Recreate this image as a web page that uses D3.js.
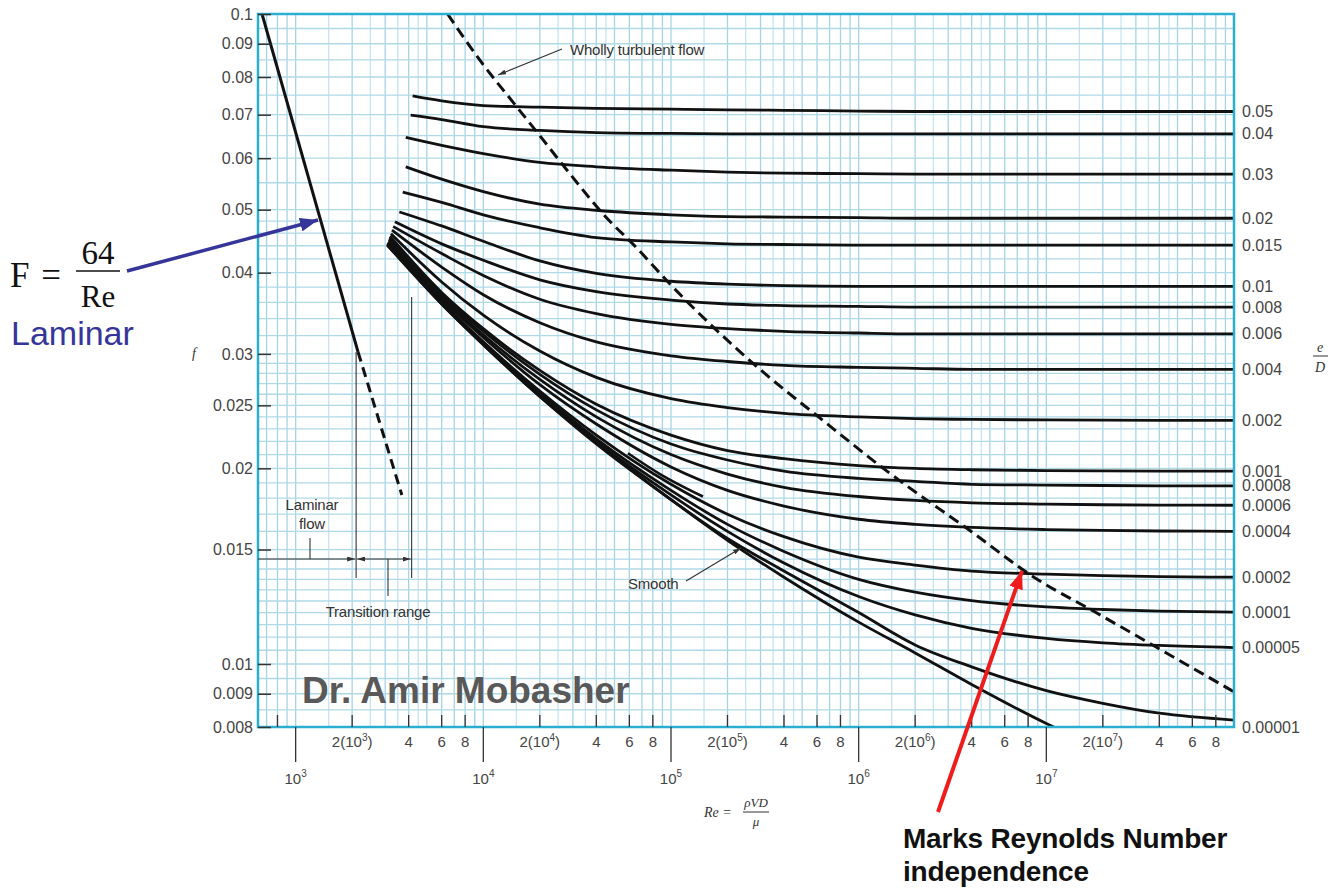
<!DOCTYPE html>
<html>
<head>
<meta charset="utf-8">
<script src="https://cdn.jsdelivr.net/npm/d3@7"></script>
<style>
body { margin: 0; background: #fff; }
svg { display: block; }
text { font-family: "Liberation Sans", Arial, sans-serif; }
.serif { font-family: "Liberation Serif", "Times New Roman", serif; }
</style>
</head>
<body>
<svg width="1338" height="888"></svg>
<script>
// values (Re, friction factor f)
const roughness = ["0.05","0.04","0.03","0.02","0.015","0.01","0.008","0.006","0.004","0.002",
                   "0.001","0.0008","0.0006","0.0004","0.0002","0.0001","0.00005","0.00001"];
const startRe = [4200, 4100, 3860, 3860, 3720, 3570, 3380, 3310, 3260, 3220, 3180, 3160, 3140, 3120, 3100, 3090, 3085, 3080];
const startF  = [0.0748, 0.0699, 0.0646, 0.0582, 0.0532, 0.0496, 0.0479, 0.0471, 0.0465, 0.0459,
                 0.0455, 0.0452, 0.0450, 0.0447, 0.0445, 0.0444, 0.0443, 0.0442];
const reGrid = [6e3, 1e4, 2e4, 4e4, 1e5, 2e5, 4e5, 1e6, 2e6, 4e6, 1e7, 2e7, 4e7, 1e8];
const fValues = [
  [0.0735, 0.0723, 0.0719, 0.0716, 0.0714, 0.0712, 0.0711, 0.0709, 0.0708, 0.0708, 0.0708, 0.0708, 0.0708, 0.0708],
  [0.0688, 0.0671, 0.0662, 0.0657, 0.0655, 0.0654, 0.0654, 0.0654, 0.0654, 0.0654, 0.0654, 0.0654, 0.0654, 0.0654],
  [0.0628, 0.0610, 0.0591, 0.0582, 0.0575, 0.0571, 0.0569, 0.0568, 0.0567, 0.0567, 0.0567, 0.0567, 0.0567, 0.0567],
  [0.0557, 0.0533, 0.0510, 0.0499, 0.0491, 0.0488, 0.0487, 0.0486, 0.0485, 0.0485, 0.0485, 0.0485, 0.0485, 0.0485],
  [0.0513, 0.0491, 0.0469, 0.0453, 0.0446, 0.0443, 0.0442, 0.0441, 0.0441, 0.0441, 0.0441, 0.0441, 0.0441, 0.0441],
  [0.0472, 0.0447, 0.0417, 0.0399, 0.0388, 0.0384, 0.0382, 0.0381, 0.0381, 0.0381, 0.0381, 0.0381, 0.0381, 0.0381],
  [0.0443, 0.0418, 0.0390, 0.0374, 0.0363, 0.0358, 0.0356, 0.0355, 0.0354, 0.0354, 0.0354, 0.0354, 0.0354, 0.0354],
  [0.0428, 0.0396, 0.0364, 0.0346, 0.0333, 0.0328, 0.0325, 0.0323, 0.0322, 0.0322, 0.0322, 0.0322, 0.0322, 0.0322],
  [0.0408, 0.0370, 0.0335, 0.0313, 0.0298, 0.0292, 0.0288, 0.0286, 0.0285, 0.0284, 0.0284, 0.0284, 0.0284, 0.0284],
  [0.0387, 0.0344, 0.0303, 0.0276, 0.0256, 0.0248, 0.0243, 0.0240, 0.02385, 0.02378, 0.02374, 0.02372, 0.0237, 0.0237],
  [0.0373, 0.0328, 0.0283, 0.0251, 0.0225, 0.0213, 0.0207, 0.0202, 0.0200, 0.0199, 0.01984, 0.01982, 0.0198, 0.0198],
  [0.0370, 0.0325, 0.0279, 0.0246, 0.0218, 0.0206, 0.0198, 0.0193, 0.0191, 0.0189, 0.01885, 0.01882, 0.0188, 0.0188],
  [0.0367, 0.0321, 0.0274, 0.0240, 0.0210, 0.0196, 0.0187, 0.0181, 0.01785, 0.0177, 0.01762, 0.01758, 0.01756, 0.01755],
  [0.0364, 0.0318, 0.0269, 0.0234, 0.0201, 0.0185, 0.0175, 0.0167, 0.0164, 0.01622, 0.0161, 0.01605, 0.01602, 0.0160],
  [0.0361, 0.0313, 0.0263, 0.0225, 0.0189, 0.0170, 0.0157, 0.0146, 0.0142, 0.0139, 0.01375, 0.01368, 0.01363, 0.0136],
  [0.0360, 0.0312, 0.0261, 0.0222, 0.0185, 0.0164, 0.0149, 0.0135, 0.0129, 0.01252, 0.01224, 0.01213, 0.01206, 0.01202],
  [0.0359, 0.0311, 0.0259, 0.0220, 0.0182, 0.0160, 0.0143, 0.0127, 0.0119, 0.01135, 0.01095, 0.01078, 0.01068, 0.0106],
  [0.0358, 0.0310, 0.0258, 0.0219, 0.0179, 0.0156, 0.0139, 0.0120, 0.0107, 0.0099, 0.0091, 0.0087, 0.0084, 0.0082]
];
const smoothStart = [3076, 0.0441];
const smoothF = [0.0358, 0.0310, 0.0258, 0.0218, 0.0179, 0.0155, 0.0136, 0.0116, 0.0104, 0.0093, 0.0081, 0.0074, null, null];
const extraRe = [58970, 87340, 148000];
const extraF  = [0.0211, 0.0196, 0.0181];
const laminarSolid  = [[662, 0.1], [2150, 0.0302]];
const laminarDashed = [[2150, 0.0302], [3680, 0.0182]];
const turbRe = [6450, 9590, 15050, 19240, 27800, 45600, 63500, 102400, 297900, 645100, 1415000, 3966000, 8590000, 18380000, 38860000, 1e8];
const turbF  = [0.1, 0.0849, 0.0720, 0.0659, 0.0576, 0.0485, 0.0441, 0.0380, 0.0284, 0.0237, 0.0198, 0.0160, 0.0136, 0.0120, 0.0106, 0.00906];
const yTicks = [0.1, 0.09, 0.08, 0.07, 0.06, 0.05, 0.04, 0.03, 0.025, 0.02, 0.015, 0.01, 0.009, 0.008];
const xMajor = [1e3, 1e4, 1e5, 1e6, 1e7];
const xMinorMult = [2, 4, 6, 8];

const svg = d3.select('svg');
const pLeft = 258, pRight = 1234, pTop = 14, pBottom = 727;
const x = d3.scaleLog().domain([630, 1e8]).range([pLeft, pRight]);
const y = d3.scaleLog().domain([0.008, 0.1]).range([pBottom, pTop]);

const defs = svg.append('defs');
defs.append('clipPath').attr('id', 'plot')
    .append('rect').attr('x', pLeft).attr('y', pTop).attr('width', pRight - pLeft).attr('height', pBottom - pTop);
function marker(id, color, w, h) {
    defs.append('marker').attr('id', id)
        .attr('markerUnits', 'userSpaceOnUse')
        .attr('markerWidth', w).attr('markerHeight', h)
        .attr('refX', w).attr('refY', h / 2)
        .attr('orient', 'auto-start-reverse')
        .append('path').attr('d', `M0,0L${w},${h / 2}L0,${h}Z`).attr('fill', color);
}
marker('ah', '#333', 8, 5);
marker('blue', '#35359a', 18, 14);
marker('red', '#ee1c1c', 18, 14);

// grid
const grid = svg.append('g');
const gx = [];
for (let k = 2; k <= 7; k++)
    for (const m of [1, 1.5, 2, 2.5, 3, 3.5, 4, 4.5, 5, 6, 7, 8, 9]) {
        const v = m * Math.pow(10, k);
        if (v > 630 && v < 1e8) gx.push([v, Number.isInteger(m)]);
    }
grid.selectAll('line.gx').data(gx).enter().append('line')
    .attr('x1', d => x(d[0])).attr('x2', d => x(d[0]))
    .attr('y1', pTop).attr('y2', pBottom)
    .attr('stroke', d => d[1] ? '#a6d4e5' : '#c6e5f0').attr('stroke-width', 1.3);
const gy = [];
const steps = [[0.008, 0.015, 0.0005], [0.015, 0.03, 0.001], [0.03, 0.05, 0.002], [0.05, 0.1, 0.005]];
steps.forEach(s => { for (let v = s[0]; v < s[1] - 1e-9; v += s[2]) gy.push(v); });
grid.selectAll('line.gy').data(gy).enter().append('line')
    .attr('y1', d => y(d)).attr('y2', d => y(d))
    .attr('x1', pLeft).attr('x2', pRight)
    .attr('stroke', '#b0d9e8').attr('stroke-width', 1.3);

// curves
const line = d3.line().x(d => x(d[0])).y(d => y(d[1])).defined(d => d[1] != null).curve(d3.curveMonotoneX);
const curves = svg.append('g').attr('clip-path', 'url(#plot)').attr('fill', 'none').attr('stroke', '#111');
roughness.forEach((r, i) => {
    const pts = [[startRe[i], startF[i]]].concat(reGrid.map((re, j) => [re, fValues[i][j]]));
    curves.append('path').attr('d', line(pts)).attr('stroke-width', 2.8);
});
curves.append('path').attr('stroke-width', 2.8)
    .attr('d', line([smoothStart].concat(reGrid.map((re, j) => [re, smoothF[j]]))));
curves.append('path').attr('stroke-width', 2.6)
    .attr('d', line(extraRe.map((re, j) => [re, extraF[j]])));
curves.append('path').attr('stroke-width', 3).attr('d', line(laminarSolid));
curves.append('path').attr('stroke-width', 3).attr('stroke-dasharray', '10,6').attr('d', line(laminarDashed));
curves.append('path').attr('stroke-width', 3).attr('stroke-dasharray', '11,6')
    .attr('d', line(turbRe.map((re, j) => [re, turbF[j]])));

// border
svg.append('rect').attr('x', pLeft).attr('y', pTop).attr('width', pRight - pLeft).attr('height', pBottom - pTop)
    .attr('fill', 'none').attr('stroke', '#2aaed2').attr('stroke-width', 2.5);

// left axis
const yAxis = svg.append('g').attr('transform', `translate(${pLeft},0)`)
    .call(d3.axisLeft(y).tickValues(yTicks).tickFormat(d => String(d)).tickSize(-13).tickPadding(5));
yAxis.select('.domain').remove();
yAxis.selectAll('line').attr('stroke', '#333').attr('stroke-width', 1.5);
yAxis.selectAll('text').attr('font-size', 16).attr('fill', '#444')
    .attr('font-family', '"Liberation Sans", Arial, sans-serif');

// right labels (e/D)
svg.selectAll('text.rl').data(roughness).enter().append('text')
    .attr('x', pRight + 8)
    .attr('y', (d, i) => i === roughness.length - 1 ? pBottom : y(fValues[i][fValues[i].length - 1]))
    .attr('dy', '0.35em').attr('font-size', 16).attr('fill', '#444').text(d => d);

// bottom axis
const bax = svg.append('g').attr('stroke', '#333');
xMajor.forEach(v => {
    bax.append('line').attr('x1', x(v)).attr('x2', x(v)).attr('y1', pBottom).attr('y2', pBottom + 35).attr('stroke-width', 1.3);
    const t = svg.append('text').attr('x', x(v)).attr('y', pBottom + 57).attr('text-anchor', 'middle')
        .attr('font-size', 15).attr('fill', '#444');
    t.append('tspan').text('10');
    t.append('tspan').attr('font-size', 10).attr('dy', -7).text(Math.log10(v));
});
const minor = [[800, null]];
[3, 4, 5, 6, 7].forEach(k => xMinorMult.forEach(m => minor.push([m * Math.pow(10, k), m === 2 ? k : 0])));
minor.forEach(d => {
    bax.append('line').attr('x1', x(d[0])).attr('x2', x(d[0])).attr('y1', pBottom).attr('y2', pBottom - 12).attr('stroke-width', 1.3);
    if (d[1] === null) return;
    const t = svg.append('text').attr('x', x(d[0])).attr('y', pBottom + 20).attr('text-anchor', 'middle')
        .attr('font-size', 15).attr('fill', '#444');
    if (d[1]) {
        t.append('tspan').text('2(10');
        t.append('tspan').attr('font-size', 10).attr('dy', -6).text(d[1]);
        t.append('tspan').attr('dy', 6).text(')');
    } else {
        t.text(Math.round(d[0] / Math.pow(10, Math.floor(Math.log10(d[0])))));
    }
});

// axis titles
svg.append('text').attr('class', 'serif').attr('x', 192).attr('y', 358).attr('font-size', 14)
    .attr('font-style', 'italic').attr('fill', '#333').text('f');
svg.append('text').attr('class', 'serif').attr('x', 704).attr('y', 817).attr('font-size', 14)
    .attr('font-style', 'italic').attr('fill', '#333').text('Re =');
svg.append('text').attr('class', 'serif').attr('x', 756).attr('y', 807).attr('font-size', 13)
    .attr('font-style', 'italic').attr('text-anchor', 'middle').attr('fill', '#333').text('ρVD');
svg.append('line').attr('x1', 743).attr('x2', 769).attr('y1', 812).attr('y2', 812).attr('stroke', '#333');
svg.append('text').attr('class', 'serif').attr('x', 756).attr('y', 826).attr('font-size', 13)
    .attr('font-style', 'italic').attr('text-anchor', 'middle').attr('fill', '#333').text('μ');
svg.append('text').attr('class', 'serif').attr('x', 1320).attr('y', 352).attr('font-size', 14)
    .attr('font-style', 'italic').attr('text-anchor', 'middle').attr('fill', '#333').text('e');
svg.append('line').attr('x1', 1313).attr('x2', 1328).attr('y1', 356).attr('y2', 356).attr('stroke', '#333');
svg.append('text').attr('class', 'serif').attr('x', 1320).attr('y', 372).attr('font-size', 14)
    .attr('font-style', 'italic').attr('text-anchor', 'middle').attr('fill', '#333').text('D');

// annotations inside the plot
const ann = svg.append('g').attr('stroke', '#333').attr('stroke-width', 1.1).attr('fill', 'none');
const xL = x(2100), xT = x(4150);
ann.append('line').attr('x1', xL).attr('x2', xL).attr('y1', 352).attr('y2', 578);
ann.append('line').attr('x1', xT).attr('x2', xT).attr('y1', 297).attr('y2', 578);
ann.append('line').attr('x1', pLeft).attr('x2', xL - 1).attr('y1', 559).attr('y2', 559).attr('marker-end', 'url(#ah)');
ann.append('line').attr('x1', xL + 1).attr('x2', xT - 1).attr('y1', 559).attr('y2', 559)
    .attr('marker-start', 'url(#ah)').attr('marker-end', 'url(#ah)');
ann.append('line').attr('x1', 310).attr('x2', 310).attr('y1', 538).attr('y2', 559);
ann.append('line').attr('x1', 388).attr('x2', 388).attr('y1', 559).attr('y2', 596);
ann.append('line').attr('x1', 562).attr('y1', 49).attr('x2', 498).attr('y2', 75).attr('marker-end', 'url(#ah)');
ann.append('line').attr('x1', 686).attr('y1', 581).attr('x2', 741).attr('y2', 548).attr('marker-end', 'url(#ah)');

function label(tx, ty, str, anchor) {
    svg.append('text').attr('x', tx).attr('y', ty).attr('font-size', 15).attr('fill', '#333')
        .attr('letter-spacing', -0.2).attr('text-anchor', anchor || 'start').text(str);
}
label(570, 55, 'Wholly turbulent flow');
label(312, 510, 'Laminar', 'middle');
label(312, 529, 'flow', 'middle');
label(378, 617, 'Transition range', 'middle');
label(628, 589, 'Smooth');

svg.append('text').attr('x', 302).attr('y', 703).attr('font-size', 37).attr('font-weight', 'bold')
    .attr('fill', '#595959').text('Dr. Amir Mobasher');

// formula and laminar note
const fx = svg.append('g');
fx.append('text').attr('class', 'serif').attr('x', 10).attr('y', 287).attr('font-size', 35).attr('fill', '#111').text('F');
fx.append('text').attr('class', 'serif').attr('x', 51).attr('y', 287).attr('font-size', 35).attr('text-anchor', 'middle').attr('fill', '#111').text('=');
fx.append('text').attr('class', 'serif').attr('x', 98).attr('y', 264).attr('font-size', 33).attr('text-anchor', 'middle').attr('fill', '#111').text('64');
fx.append('line').attr('x1', 76).attr('x2', 120).attr('y1', 271).attr('y2', 271).attr('stroke', '#111').attr('stroke-width', 1.5);
fx.append('text').attr('class', 'serif').attr('x', 98).attr('y', 307).attr('font-size', 31).attr('text-anchor', 'middle').attr('fill', '#111').text('Re');
svg.append('text').attr('x', 11).attr('y', 345).attr('font-size', 34).attr('fill', '#35359a').text('Laminar');
svg.append('line').attr('x1', 127).attr('y1', 271).attr('x2', 318).attr('y2', 220)
    .attr('stroke', '#35359a').attr('stroke-width', 3.5).attr('marker-end', 'url(#blue)');

// Reynolds number independence note
svg.append('line').attr('x1', 938).attr('y1', 812).attr('x2', 1022).attr('y2', 571)
    .attr('stroke', '#ee1c1c').attr('stroke-width', 4).attr('marker-end', 'url(#red)');
svg.append('text').attr('x', 903).attr('y', 848).attr('font-size', 28).attr('font-weight', 'bold')
    .attr('letter-spacing', -0.2).attr('fill', '#111').text('Marks Reynolds Number');
svg.append('text').attr('x', 903).attr('y', 881).attr('font-size', 28).attr('font-weight', 'bold')
    .attr('letter-spacing', -0.2).attr('fill', '#111').text('independence');
</script>
</body>
</html>
